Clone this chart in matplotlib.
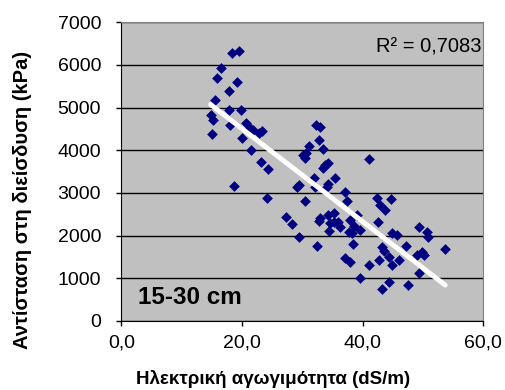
import numpy as np
import matplotlib.pyplot as plt

plt.rcParams['font.family'] = ['Liberation Sans', 'DejaVu Sans']

# ηλεκτρική αγωγιμότητα (dS/m) και αντίσταση στη διείσδυση (kPa), 15-30 cm
ec = [18.3, 19.5, 16.5, 15.9, 19.1, 17.9, 15.6, 17.9, 19.9, 14.8,
      15.2, 18.0, 20.6, 21.4, 21.9, 23.3, 22.9, 15.0, 20.0, 21.5,
      23.1, 24.3, 18.7, 24.1, 32.3, 33.0, 32.8, 33.5, 31.1, 30.1,
      30.5, 30.7, 33.8, 33.4, 34.3, 29.4, 29.1, 31.9, 30.5, 32.1,
      34.1, 34.3, 35.4, 27.3, 28.3, 33.0, 34.3, 35.2, 35.3, 34.6,
      36.0, 36.3, 37.1, 37.4, 41.1, 42.4, 42.9, 43.7, 44.7, 37.9,
      39.0, 38.2, 39.6, 38.4, 42.6, 44.8, 45.7, 49.3, 50.6, 50.9,
      53.7, 43.2, 43.5, 42.8, 44.3, 47.2, 44.8, 49.0, 49.8, 50.1,
      37.1, 37.9, 41.1, 49.4, 39.5, 44.3, 43.2, 47.6, 29.5, 32.4,
      32.7, 34.5, 38.5, 37.8, 46.0]
pr = [6290, 6330, 5920, 5690, 5600, 5390, 5180, 4940, 4950, 4820,
      4710, 4600, 4650, 4510, 4470, 4450, 4400, 4370, 4280, 4000,
      3720, 3550, 3170, 2870, 4590, 4550, 4240, 4040, 4100, 3890,
      3810, 3930, 3650, 3580, 3700, 3190, 3130, 3340, 2820, 3150,
      3150, 3210, 3340, 2430, 2270, 2410, 2480, 2330, 2520, 2290,
      2330, 2210, 3030, 2800, 3790, 2870, 2720, 2600, 2860, 2370,
      2480, 2050, 2130, 1810, 2330, 2060, 2010, 2210, 2090, 1970,
      1690, 1740, 1630, 1430, 1510, 1750, 1320, 1550, 1610, 1550,
      1470, 1380, 1320, 1130, 1000, 920, 760, 840, 1960, 1760,
      2340, 2100, 2220, 2080, 1440]

r2_text = 'R² = 0,7083'
depth_text = '15-30 cm'
xticks = [0, 20, 40, 60]
yticks = [0, 1000, 2000, 3000, 4000, 5000, 6000, 7000]

x = np.array(ec)
y = np.array(pr)
a, b = np.polyfit(x, y, 1)
xl = np.array([x.min(), x.max()])

fig = plt.figure(figsize=(5.06, 3.9), dpi=100)
ax = fig.add_axes([0.2397, 0.177, 0.7153, 0.766])
ax.set_facecolor('#c0c0c0')

ax.scatter(x, y, marker='D', s=30, color='#000080', linewidths=0, zorder=3)
ax.plot(xl, a * xl + b, color='white', lw=3.5, solid_capstyle='round', zorder=4)

ax.set_xlim(0, 60)
ax.set_ylim(0, 7000)
ax.set_xticks(xticks)
ax.set_xticklabels([f'{v:.1f}'.replace('.', ',') for v in xticks])
ax.set_yticks(yticks)
ax.grid(axis='y', color='black', lw=1)
ax.set_axisbelow(True)
ax.tick_params(direction='out', length=3.6, width=1, labelsize=14, colors='black')
ax.tick_params(axis='y', pad=11)
ax.tick_params(axis='x', pad=6)
for s in ['top', 'right']:
    ax.spines[s].set_color('#808080')
for s in ['left', 'bottom']:
    ax.spines[s].set_color('black')

ax.set_xlabel('Ηλεκτρική αγωγιμότητα (dS/m)', fontsize=13.5, fontweight='bold', va='center')
ax.xaxis.set_label_coords(0.418, -0.194)
ax.set_ylabel('Αντίσταση στη διείσδυση (kPa)', fontsize=14.5, fontweight='bold', va='center')
ax.yaxis.set_label_coords(-0.274, 0.405)

ax.text(0.996, 0.917, r2_text, transform=ax.transAxes, ha='right', va='center', fontsize=14.5)
ax.text(0.046, 0.08, depth_text, transform=ax.transAxes, ha='left', va='center',
        fontsize=17.5, fontweight='bold')

fig.savefig('out.png', dpi=100)
